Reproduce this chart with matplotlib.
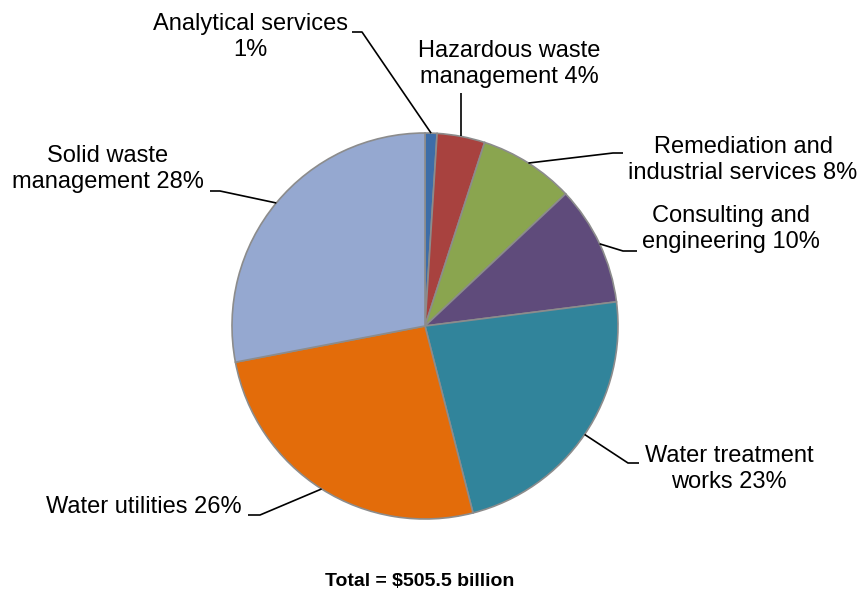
import numpy as np
import matplotlib
matplotlib.use("Agg")
import matplotlib.pyplot as plt

plt.rcParams['font.family'] = ['Liberation Sans', 'DejaVu Sans']

# Environmental industry revenue by segment
segments = ['Analytical services', 'Hazardous waste management',
            'Remediation and industrial services', 'Consulting and engineering',
            'Water treatment works', 'Water utilities', 'Solid waste management']
shares = [1, 4, 8, 10, 23, 26, 28]
label_texts = ['Analytical services\n1%', 'Hazardous waste\nmanagement 4%',
               'Remediation and\nindustrial services 8%', 'Consulting and\nengineering 10%',
               'Water treatment\nworks 23%', 'Water utilities 26%',
               'Solid waste\nmanagement 28%']
total_text = 'Total = $505.5 billion'

colors = ['#3D6DA8', '#A8423F', '#8AA54F', '#5F4B7B', '#31849B', '#E36C0A', '#95A8D0']

W, H = 863, 599
fig = plt.figure(figsize=(W / 100, H / 100), dpi=100)
ax = fig.add_axes([0, 0, 1, 1])

cx, cy, r = 425, H - 326, 193
wedges, _ = ax.pie(shares, colors=colors, startangle=90, counterclock=False,
                   center=(cx, cy), radius=r,
                   wedgeprops=dict(edgecolor='#8C8C8C', linewidth=1.2))
ax.set_xlim(0, W)
ax.set_ylim(0, H)
ax.set_aspect('auto')
ax.axis('off')

# label centres and leader elbows, in pixels from top-left
label_pos = [(250, 37), (509, 64), (743, 160), (731, 229), (729, 469), (144, 507), (108, 169)]
leader_pts = [[(362, 32), (352, 32)],
              [(None, 93)],
              [(613, 153), (623, 153)],
              [(623, 251), (637, 251)],
              [(628, 463), (639, 463)],
              [(260, 515), (248, 515)],
              [(220, 191), (210, 191)]]

for w, txt, (lx, ly), pts in zip(wedges, label_texts, label_pos, leader_pts):
    mid = np.deg2rad((w.theta1 + w.theta2) / 2)
    ex, ey = cx + r * np.cos(mid), cy + r * np.sin(mid)
    xs, ys = [ex], [ey]
    for px, py in pts:
        xs.append(ex if px is None else px)
        ys.append(H - py)
    ax.plot(xs, ys, color='black', lw=1.2, solid_capstyle='butt')
    ax.text(lx, H - ly, txt, ha='center', va='center', fontsize=17,
            multialignment='center', linespacing=1.18)

ax.text(420, H - 582, total_text, ha='center', va='center', fontsize=14,
        fontweight='bold')

fig.savefig('out.png', dpi=100)
